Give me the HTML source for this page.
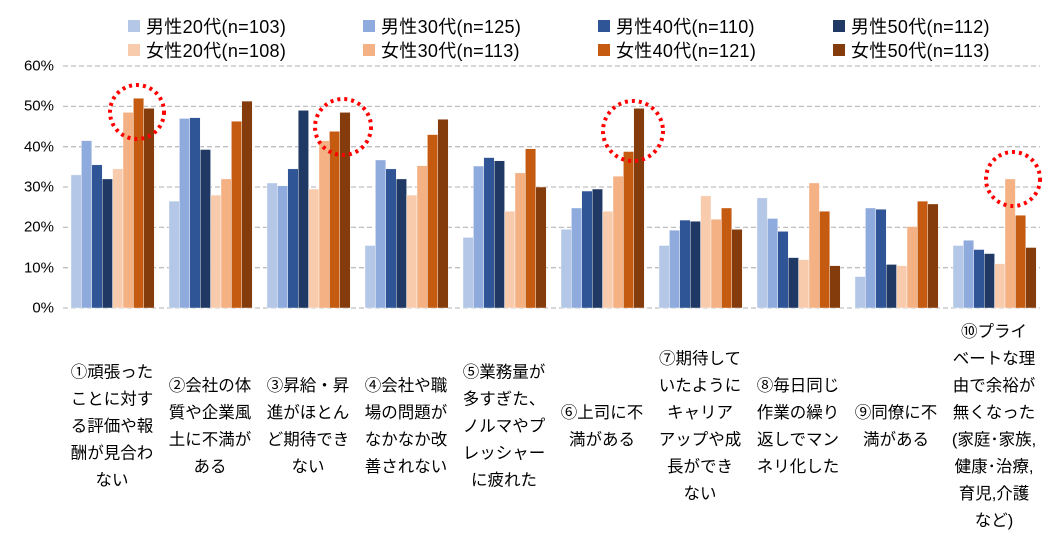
<!DOCTYPE html>
<html><head><meta charset="utf-8"><style>
body{margin:0;width:1062px;height:542px;background:#fff;overflow:hidden;font-family:"Liberation Sans","Noto Sans CJK JP",sans-serif;color:#000;position:relative}
.lab{position:absolute;width:104px;text-align:center;font-size:16.5px;line-height:27px;transform:translateY(-50%);top:427px;white-space:nowrap}
.leg{position:absolute;font-size:18px;display:flex;align-items:center;white-space:nowrap;letter-spacing:0.3px}
.leg i{display:inline-block;width:12px;height:12px;margin-right:6px}
.yt{position:absolute;left:14px;font-size:15px;width:40px;text-align:right;transform:translateY(-50%)}
</style></head><body>
<div class="leg" style="left:128px;top:13px"><i style="background:#b4c7e7"></i>男性20代(n=103)</div>
<div class="leg" style="left:363px;top:13px"><i style="background:#8faadc"></i>男性30代(n=125)</div>
<div class="leg" style="left:598px;top:13px"><i style="background:#2f5597"></i>男性40代(n=110)</div>
<div class="leg" style="left:833px;top:13px"><i style="background:#203864"></i>男性50代(n=112)</div>
<div class="leg" style="left:128px;top:37px"><i style="background:#f8cbad"></i>女性20代(n=108)</div>
<div class="leg" style="left:363px;top:37px"><i style="background:#f4b183"></i>女性30代(n=113)</div>
<div class="leg" style="left:598px;top:37px"><i style="background:#c55a11"></i>女性40代(n=121)</div>
<div class="leg" style="left:833px;top:37px"><i style="background:#843c0c"></i>女性50代(n=113)</div>
<div class="yt" style="top:66px">60%</div><div class="yt" style="top:106px">50%</div><div class="yt" style="top:147px">40%</div><div class="yt" style="top:187px">30%</div><div class="yt" style="top:227px">20%</div><div class="yt" style="top:268px">10%</div><div class="yt" style="top:308px">0%</div>
<svg id="s" width="1062" height="542" style="position:absolute;left:0;top:0"></svg>
<div class="lab" style="left:60px">①頑張った<br>ことに対す<br>る評価や報<br>酬が見合わ<br>ない</div>
<div class="lab" style="left:158px">②会社の体<br>質や企業風<br>土に不満が<br>ある</div>
<div class="lab" style="left:256px">③昇給・昇<br>進がほとん<br>ど期待でき<br>ない</div>
<div class="lab" style="left:354px">④会社や職<br>場の問題が<br>なかなか改<br>善されない</div>
<div class="lab" style="left:452px">⑤業務量が<br>多すぎた、<br>ノルマやプ<br>レッシャー<br>に疲れた</div>
<div class="lab" style="left:550px">⑥上司に不<br>満がある</div>
<div class="lab" style="left:648px">⑦期待して<br>いたように<br>キャリア<br>アップや成<br>長ができ<br>ない</div>
<div class="lab" style="left:746px">⑧毎日同じ<br>作業の繰り<br>返しでマン<br>ネリ化した</div>
<div class="lab" style="left:844px">⑨同僚に不<br>満がある</div>
<div class="lab" style="left:942px">⑩プライ<br>ベートな理<br>由で余裕が<br>無くなった<br>(家庭･家族,<br>健康･治療,<br>育児,介護<br>など)</div>
<script>
var d=[[33,41.5,35.5,32,34.5,48.5,52,49.5],[26.5,47,47.2,39.3,28,32,46.3,51.3],[31,30.3,34.5,49,29.5,41.5,43.8,48.5],[15.5,36.7,34.5,32,28,35.3,43,46.8],[17.5,35.2,37.3,36.5,24,33.5,39.5,30],[19.5,24.8,29,29.5,24,32.7,38.8,49.5],[15.5,19.3,21.8,21.5,27.8,22,24.8,19.5],[27.3,22.2,19,12.5,12,31,24,10.5],[7.8,24.8,24.5,10.8,10.5,20.2,26.5,25.8],[15.5,16.8,14.5,13.5,11,32,23,15]];
var c=["#b4c7e7","#8faadc","#2f5597","#203864","#f8cbad","#f4b183","#c55a11","#843c0c"];
var h='';
for(var k=0;k<=6;k++){var y=308-k*40.33;h+='<line x1="63" x2="1040" y1="'+y+'" y2="'+y+'" stroke="#bfbfbf" stroke-width="1.3" stroke-dasharray="5,3"/>';}
for(var g=0;g<10;g++)for(var b=0;b<8;b++){var v=d[g][b]*4.033;h+='<rect x="'+(71+g*98+b*10.4)+'" y="'+(308-v)+'" width="10.4" height="'+v+'" fill="'+c[b]+'" stroke="#fff" stroke-width="0.4"/>';}
[[137,112,27],[343,127,28],[633,131,30],[1013,179,27]].forEach(function(e){h+='<circle cx="'+e[0]+'" cy="'+e[1]+'" r="'+e[2]+'" fill="none" stroke="#ff0000" stroke-width="4" stroke-dasharray="3,4"/>';});
document.getElementById('s').innerHTML=h;
</script>
</body></html>
